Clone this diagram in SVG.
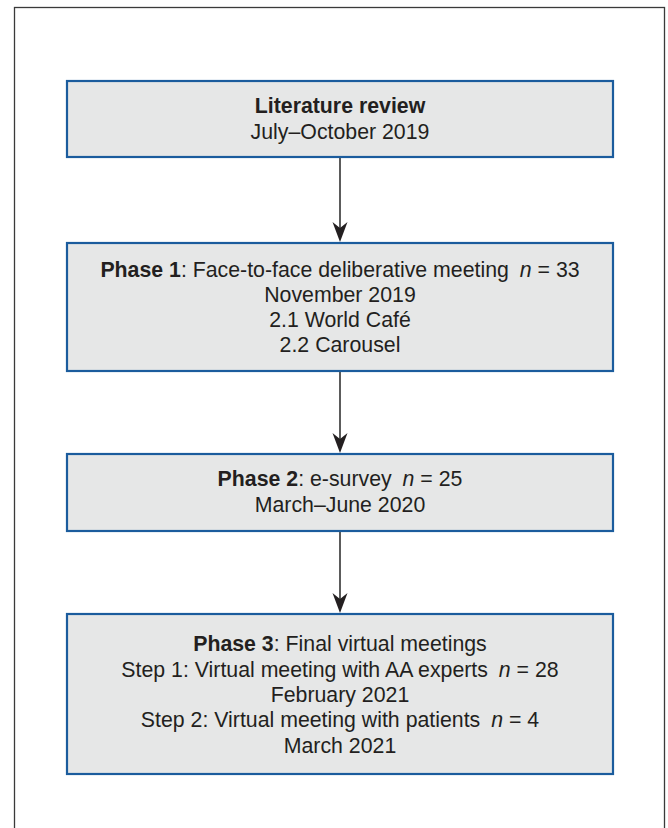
<svg xmlns="http://www.w3.org/2000/svg" width="668" height="828" viewBox="0 0 668 828">
<defs>
<style>
.frame{fill:none;stroke:#3a3a3a;stroke-width:1.3}
.box{fill:#e6e7e7;stroke:#1b5c9d;stroke-width:2.2}
.t{font-family:"Liberation Sans",Arial,sans-serif;font-size:21.3px;fill:#231f20;text-anchor:middle}
.b{font-weight:bold}
.i{font-style:italic}
.conn{stroke:#4a4a4a;stroke-width:1.8;fill:none}
.head{fill:#231f20}
</style>
<path id="ah" class="head" d="M0,0 L-7.5,-20 L0,-14 L7.5,-20 Z"/>
</defs>
<rect class="frame" x="14.5" y="7.5" width="650" height="840"/>
<g id="connectors">
<line class="conn" x1="340" y1="158" x2="340" y2="232"/>
<use href="#ah" x="340" y="242"/>
<line class="conn" x1="340" y1="372" x2="340" y2="443"/>
<use href="#ah" x="340" y="453"/>
<line class="conn" x1="340" y1="532" x2="340" y2="603"/>
<use href="#ah" x="340" y="613"/>
</g>
<g id="literature-review">
<rect class="box" x="67" y="81" width="546" height="76"/>
<text class="t" x="340" y="113"><tspan class="b">Literature review</tspan></text>
<text class="t" x="340" y="138.5">July–October 2019</text>
</g>
<g id="phase1">
<rect class="box" x="67" y="243" width="546" height="128"/>
<text class="t" x="340" y="277"><tspan class="b">Phase 1</tspan>: Face-to-face deliberative meeting <tspan class="i" dx="5">n</tspan> = 33</text>
<text class="t" x="340" y="302">November 2019</text>
<text class="t" x="340" y="327">2.1 World Café</text>
<text class="t" x="340" y="352">2.2 Carousel</text>
</g>
<g id="phase2">
<rect class="box" x="67" y="454" width="546" height="77"/>
<text class="t" x="340" y="486"><tspan class="b">Phase 2</tspan>: e-survey <tspan class="i" dx="5">n</tspan> = 25</text>
<text class="t" x="340" y="511.5">March–June 2020</text>
</g>
<g id="phase3">
<rect class="box" x="67" y="614" width="546" height="160"/>
<text class="t" x="340" y="651"><tspan class="b">Phase 3</tspan>: Final virtual meetings</text>
<text class="t" x="340" y="676.5">Step 1: Virtual meeting with AA experts <tspan class="i" dx="5">n</tspan> = 28</text>
<text class="t" x="340" y="702">February 2021</text>
<text class="t" x="340" y="727">Step 2: Virtual meeting with patients <tspan class="i" dx="5">n</tspan> = 4</text>
<text class="t" x="340" y="752.5">March 2021</text>
</g>
</svg>
